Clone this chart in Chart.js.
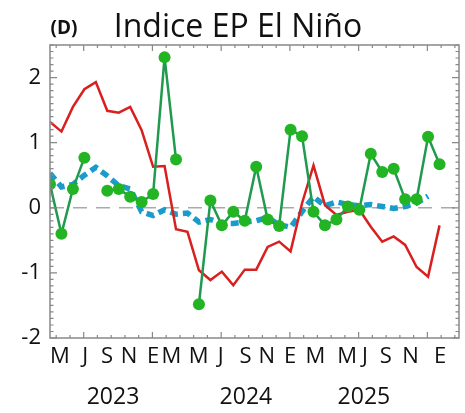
<!DOCTYPE html>
<html>
<head>
<meta charset="utf-8">
<script src="https://cdn.jsdelivr.net/npm/chart.js@4/dist/chart.umd.min.js"></script>
<style>
html,body{margin:0;padding:0;background:#fff;}
canvas{display:block;}
</style>
</head>
<body>
<canvas id="ninoChart" width="465" height="413"></canvas>
<script>
// meses: 0 = abr 2023 ... 34 = feb 2026
const monthIndex = [0,1,2,3,4,5,6,7,8,9,10,11,12,13,14,15,16,17,18,19,20,21,22,23,24,25,26,27,28,29,30,31,32,33,34];
const redSeries = [1.32,1.17,1.55,1.82,1.93,1.49,1.46,1.55,1.19,0.63,0.64,-0.33,-0.37,-0.96,-1.11,-0.98,-1.19,-0.95,-0.95,-0.60,-0.52,-0.67,0.07,0.65,0.04,-0.11,-0.06,-0.03,-0.29,-0.52,-0.44,-0.57,-0.91,-1.06,-0.27];
const greenSeries = [0.36,-0.40,0.29,0.77,null,0.26,0.29,0.17,0.09,0.21,2.31,0.74,null,-1.48,0.11,-0.27,-0.06,-0.20,0.63,-0.18,-0.28,1.20,1.10,-0.06,-0.27,-0.18,0.02,-0.03,0.83,0.55,0.60,0.13,0.13,1.09,0.67];
const blueSeries = [0.53,0.32,0.36,0.50,0.62,0.49,0.34,0.29,-0.06,-0.12,-0.03,-0.10,-0.08,-0.22,-0.18,-0.24,-0.24,-0.22,-0.20,-0.15,-0.26,-0.30,-0.06,0.17,0.03,0.09,0.05,0.03,0.05,0.02,-0.01,0.02,0.07,0.18];
const monthLabels = ["M","J","S","N","E","M","M","J","S","N","E","M","M","J","S","N","E"];
const yearLabels = ["2023","2024","2025"];

// posiciones de las etiquetas (en meses) tal como aparecen en la figura
const monthLabelPos = [0.86,3.08,4.97,6.89,8.99,10.59,12.97,14.91,17.07,18.93,20.96,23.17,25.94,27.49,29.31,31.47,34.06];
const yearLabelPos = [5.5,17.1,27.4];

function toPoints(vals){
    return vals.map(function(v,i){ return {x: monthIndex[i], y: v}; });
}

const FONT = "'Open Sans', 'DejaVu Sans', sans-serif";

const framePlugin = {
    id: "frame",
    beforeDatasetsDraw(chart){
        const ctx = chart.ctx, a = chart.chartArea, y = chart.scales.y;
        ctx.save();
        ctx.strokeStyle = "#aaaaaa";
        ctx.lineWidth = 1.5;
        ctx.setLineDash([14,9]);
        ctx.beginPath();
        ctx.moveTo(a.left, y.getPixelForValue(0));
        ctx.lineTo(a.right, y.getPixelForValue(0));
        ctx.stroke();
        ctx.restore();
    },
    afterDraw(chart){
        const ctx = chart.ctx, a = chart.chartArea;
        const x = chart.scales.x, y = chart.scales.y;
        ctx.save();
        ctx.strokeStyle = "#888888";
        ctx.lineWidth = 1.5;
        ctx.strokeRect(a.left, a.top, a.right - a.left, a.bottom - a.top);

        ctx.lineWidth = 1.2;
        ctx.beginPath();
        // y ticks, pointing inward, both sides
        for(let k = -20; k <= 25; k++){
            const py = y.getPixelForValue(k/10);
            const len = (k % 10 === 0) ? 7 : 3.5;
            ctx.moveTo(a.left, py); ctx.lineTo(a.left + len, py);
            ctx.moveTo(a.right, py); ctx.lineTo(a.right - len, py);
        }
        // x ticks every 1.2 months, major every 6
        for(let k = 0; ; k++){
            const v = 0.54 + 1.2*k;
            if(v > x.max) break;
            const px = x.getPixelForValue(v);
            const len = (k % 5 === 2) ? 6 : 3;
            ctx.moveTo(px, a.bottom); ctx.lineTo(px, a.bottom - len);
            ctx.moveTo(px, a.top); ctx.lineTo(px, a.top + len);
        }
        ctx.stroke();

        // years
        ctx.fillStyle = "#111";
        ctx.textAlign = "center";
        ctx.textBaseline = "middle";
        ctx.font = "23px " + FONT;
        yearLabels.forEach(function(t,i){
            ctx.fillText(t, x.getPixelForValue(yearLabelPos[i]), 397);
        });

        // title
        ctx.textBaseline = "alphabetic";
        ctx.font = "bold 19px " + FONT;
        ctx.fillText("(D)", 64, 34);
        ctx.font = "32px " + FONT;
        ctx.fillText("Indice EP El Niño", 238, 37);
        ctx.restore();
    }
};

new Chart(document.getElementById("ninoChart"), {
    type: "line",
    data: {
        datasets: [
            {
                label: "verde",
                data: toPoints(greenSeries),
                borderColor: "#1f9a4f",
                borderWidth: 2.5,
                pointRadius: 6,
                pointBackgroundColor: "#22b422",
                pointBorderColor: "#22b422",
                pointBorderWidth: 0,
                spanGaps: false,
                order: 1
            },
            {
                label: "rojo",
                data: toPoints(redSeries),
                borderColor: "#d8201e",
                borderWidth: 2.5,
                pointRadius: 0,
                order: 2
            },
            {
                label: "azul",
                data: toPoints(blueSeries),
                borderColor: "#1a9bcc",
                borderWidth: 5.5,
                borderDash: [8,5],
                pointRadius: 0,
                order: 3
            }
        ]
    },
    options: {
        responsive: false,
        animation: false,
        devicePixelRatio: 1,
        layout: { padding: { top: 45, right: 2, left: 0, bottom: 0 } },
        plugins: {
            legend: { display: false },
            tooltip: { enabled: false }
        },
        scales: {
            x: {
                type: "linear",
                min: 0,
                max: 35.7,
                grid: { display: false, drawTicks: false },
                border: { display: false },
                afterBuildTicks: function(scale){
                    scale.ticks = monthLabelPos.map(function(v){ return {value: v}; });
                },
                afterFit: function(scale){ scale.height = 75; },
                ticks: {
                    autoSkip: false,
                    maxRotation: 0,
                    padding: 6,
                    color: "#111",
                    font: { family: FONT, size: 22 },
                    callback: function(value, index){ return monthLabels[index]; }
                }
            },
            y: {
                min: -2,
                max: 2.5,
                grid: { display: false, drawTicks: false },
                border: { display: false },
                afterFit: function(scale){ scale.width = 50; },
                ticks: {
                    stepSize: 1,
                    padding: 9,
                    color: "#111",
                    font: { family: FONT, size: 22 },
                    callback: function(value){ return Number.isInteger(value) ? String(value) : ""; }
                }
            }
        }
    },
    plugins: [framePlugin]
});
</script>
</body>
</html>
